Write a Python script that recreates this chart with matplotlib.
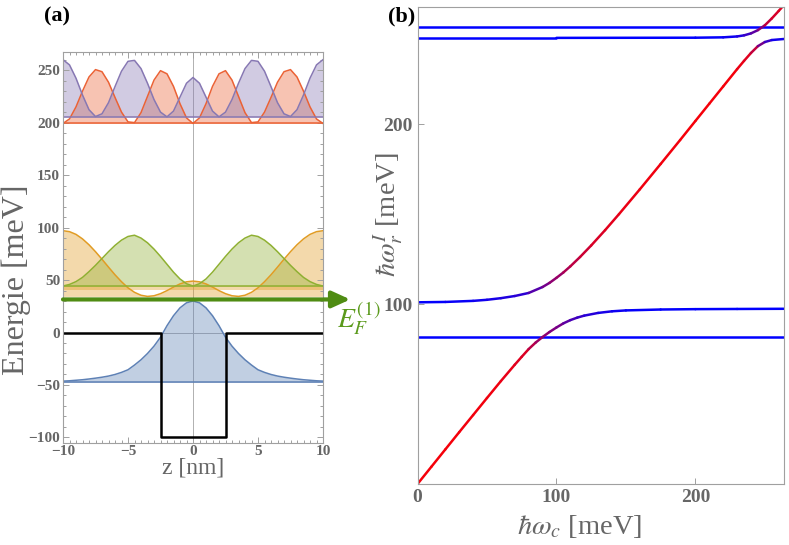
import numpy as np
import matplotlib
matplotlib.use("Agg")
import matplotlib.pyplot as plt
from matplotlib.collections import LineCollection
from matplotlib.patches import FancyArrowPatch
from matplotlib.ticker import MultipleLocator

plt.rcParams['font.family'] = ['Liberation Serif', 'DejaVu Serif']
plt.rcParams['mathtext.fontset'] = 'stix'

# ---------------- panel (a): well states, energies in meV, z in nm
z = [-10.0, -9.5, -9.0, -8.5, -8.0, -7.5, -7.0, -6.5, -6.0, -5.5, -5.0,
     -4.5, -4.0, -3.5, -3.0, -2.5, -2.0, -1.5, -1.0, -0.5, 0.0,
     0.5, 1.0, 1.5, 2.0, 2.5, 3.0, 3.5, 4.0, 4.5, 5.0,
     5.5, 6.0, 6.5, 7.0, 7.5, 8.0, 8.5, 9.0, 9.5, 10.0]

pot_z = [-10, -2.5, -2.5, 2.5, 2.5, 10]
pot_e = [0, 0, -100, -100, 0, 0]

lvl_blue = -47.5
blue = [-46.3, -46, -45.5, -45, -44.3, -43.5, -42.6, -41.5, -40, -38,
        -35.5, -31, -26, -20, -13, -4.5, 6.5, 16, 23.5, 28.3, 30,
        28.3, 23.5, 16, 6.5, -4.5, -13, -20, -26, -31, -35.5,
        -38, -40, -41.5, -42.6, -43.5, -44.3, -45, -45.5, -46, -46.3]

lvl_orange = 34.4
orange_band = (40.1, 44.2)
orange = [97, 96.1, 93.5, 89.2, 83.6, 77, 69.8, 62.3, 55, 48.4,
          42.6, 38.3, 35.5, 34.4, 35, 37, 39.9, 43.3, 46.3, 48.3, 49,
          48.3, 46.3, 43.3, 39.9, 37, 35, 34.4, 35.5, 38.3, 42.6,
          48.4, 55, 62.3, 69.8, 77, 83.6, 89.2, 93.5, 96.1, 97]

lvl_green = 44.3
green = [44.3, 45.8, 48.5, 52.5, 58, 64, 70.5, 77, 83, 88,
         91.5, 92.7, 90, 85.5, 79.5, 72.5, 65, 57.5, 51, 46.5, 44.3,
         46.5, 51, 57.5, 65, 72.5, 79.5, 85.5, 90, 92.7, 91.5,
         88, 83, 77, 70.5, 64, 58, 52.5, 48.5, 45.8, 44.3]

lvl_red = 199.2
red = [199.2, 203.5, 215, 230, 243.5, 250.5, 248.5, 238.5, 224, 210,
       200.7, 200, 209.5, 225, 240.5, 249.5, 246.5, 234.5, 218, 204.5, 199.2,
       204.5, 218, 234.5, 246.5, 249.5, 240.5, 225, 209.5, 200, 200.7,
       210, 224, 238.5, 248.5, 250.5, 243.5, 230, 215, 203.5, 199.2]

lvl_purple = 205.5
purple = [260, 255, 242.3, 226.3, 212.3, 205.8, 208.4, 219, 234.3, 249,
          258.4, 259.3, 251.5, 237.5, 222, 210, 205.5, 211, 224.3, 237.5, 243,
          237.5, 224.3, 211, 205.5, 210, 222, 237.5, 251.5, 259.3, 258.4,
          249, 234.3, 219, 208.4, 205.8, 212.3, 226.3, 242.3, 255, 260]

e_fermi = 31.5

# ---------------- panel (b): dispersion, meV vs meV
flat_low = 81.8
flat_high = 254.3

x_lower = [0, 10, 20, 30, 40, 50, 60, 70, 75, 80, 85, 90, 95, 100, 105,
           110, 115, 120, 130, 140, 150, 175, 200, 230, 264]
y_lower = [0, 9.6, 19.2, 28.8, 38.3, 47.8, 57.2, 66.3, 70.7, 75, 78.6,
           81.7, 84.5, 87, 89.3, 91.1, 92.5, 93.6, 95.1, 96.0, 96.5,
           97, 97.2, 97.3, 97.4]

x_middle = [0, 20, 40, 50, 60, 70, 80, 90, 95, 100, 105, 110, 117, 125,
            135, 145, 160, 175, 189, 200, 210, 220, 230, 235, 240, 245,
            250, 255, 264]
y_middle = [101, 101.2, 101.8, 102.4, 103.3, 104.5, 106.2, 109.5, 111.8,
            114.6, 117.6, 121.0, 126.2, 132.6, 141.1, 150.0, 163.8, 177.9,
            191.2, 201.8, 211.4, 221.0, 230.6, 235.2, 239.6, 243.4, 245.7,
            246.8, 247.4]

x_upper = [0, 100, 200, 220, 230, 235, 240, 245, 250, 255, 260, 264]
y_upper = [248, 248, 248.1, 248.3, 248.8, 249.4, 250.5, 252.3, 255,
           258.8, 263, 266.5]

c_blue = '#5e81b5'
c_orange = '#e19c24'
c_green = '#8fb032'
c_red = '#eb6235'
c_purple = '#8778b3'
frame_col = '#a0a0a0'
text_col = '#666666'
fermi_col = '#4f8c13'

fig = plt.figure(figsize=(7.89, 5.45), dpi=100)
W, H = 789, 545
axa = fig.add_axes([63 / W, 1 - 442.7 / H, 260 / W, 390.4 / H])
axb = fig.add_axes([417.5 / W, 1 - 484 / H, 366.8 / W, 476.7 / H])

# ----- (a)
axa.axvline(0, color='#b0b0b0', lw=0.7, zorder=0.5)
axa.axhline(0, color='#b0b0b0', lw=0.7, zorder=0.5)

fa = 0.38
axa.fill_between(z, lvl_blue, blue, color=c_blue, alpha=fa, lw=0)
axa.plot(z, blue, color=c_blue, lw=1.1)
axa.plot([-10, 10], [lvl_blue, lvl_blue], color=c_blue, lw=1.1)

axa.fill_between(z, lvl_orange, orange, color=c_orange, alpha=fa, lw=0)
axa.fill_between([-10, 10], orange_band[0], orange_band[1], color=c_orange, alpha=fa, lw=0)
axa.plot(z, orange, color=c_orange, lw=1.1)

axa.fill_between(z, lvl_green, green, color=c_green, alpha=fa, lw=0)
axa.plot(z, green, color=c_green, lw=1.1)
axa.plot([-10, 10], [lvl_green, lvl_green], color=c_green, lw=1.1)

axa.fill_between(z, lvl_red, red, color=c_red, alpha=fa, lw=0)
axa.plot(z, red, color=c_red, lw=1.1)
axa.plot([-10, 10], [lvl_red, lvl_red], color=c_red, lw=1.1)

axa.fill_between(z, lvl_purple, purple, color=c_purple, alpha=fa, lw=0)
axa.plot(z, purple, color=c_purple, lw=1.1)
axa.plot([-10, 10], [lvl_purple, lvl_purple], color=c_purple, lw=1.1)

axa.plot(pot_z, pot_e, color='black', lw=1.8)

arr = FancyArrowPatch((-10, e_fermi), (12.1, e_fermi),
                      arrowstyle='-|>,head_length=1.1,head_width=0.5',
                      mutation_scale=10, lw=3, color=fermi_col,
                      shrinkA=0, shrinkB=0, clip_on=False, zorder=5)
axa.add_patch(arr)
fig.text(337 / W, 1 - 328 / H, r'$E_F^{(1)}$', color='#5b9a1c',
         fontsize=20, va='baseline', ha='left')

axa.set_xlim(-10, 10)
axa.set_ylim(-105, 267)
axa.set_xticks([-10, -5, 0, 5, 10])
axa.set_yticks([-100, -50, 0, 50, 100, 150, 200, 250])
axa.xaxis.set_minor_locator(MultipleLocator(0.5))
axa.yaxis.set_minor_locator(MultipleLocator(10))
axa.tick_params(which='both', direction='in', top=True, right=True,
                color=frame_col, labelcolor=text_col, labelsize=11, width=0.7,
                pad=2)
axa.tick_params(which='major', length=4.5)
axa.tick_params(which='minor', length=2.5)
for s in axa.spines.values():
    s.set_color(frame_col)
    s.set_linewidth(0.8)
for lbl in axa.get_xticklabels() + axa.get_yticklabels():
    lbl.set_fontweight('bold')

fig.text(16 / W, 1 - 280 / H, 'Energie [meV]', rotation=90, color=text_col,
         fontsize=23, ha='center', va='center')
fig.text(193 / W, 1 - 468 / H, 'z [nm]', color=text_col,
         fontsize=17, ha='center', va='center')

# ----- (b)
axb.plot([0, 264], [flat_low, flat_low], color='blue', lw=1.8)
axb.plot([0, 264], [flat_high, flat_high], color='blue', lw=1.8)


def branch(ax, xs, ys):
    xs = np.asarray(xs, float)
    ys = np.asarray(ys, float)
    pts = np.column_stack([xs, ys]).reshape(-1, 1, 2)
    segs = np.concatenate([pts[:-1], pts[1:]], axis=1)
    slope = np.clip(np.diff(ys) / np.diff(xs), 0, 1)
    cols = [(s, 0, 1 - s) for s in slope]
    lc = LineCollection(segs, colors=cols, linewidths=1.8, capstyle='round',
                        joinstyle='round')
    ax.add_collection(lc)


branch(axb, x_lower, y_lower)
branch(axb, x_middle, y_middle)
branch(axb, x_upper, y_upper)

axb.set_xlim(0, 264)
axb.set_ylim(0, 265)
axb.set_xticks([0, 100, 200])
axb.set_yticks([100, 200])
axb.tick_params(direction='in', length=4, color=frame_col, labelcolor=text_col,
                labelsize=14, width=0.7)
for s in axb.spines.values():
    s.set_color(frame_col)
    s.set_linewidth(0.8)
for lbl in axb.get_xticklabels() + axb.get_yticklabels():
    lbl.set_fontweight('bold')

fig.text(580 / W, 1 - 526 / H, r'$\hbar\omega_c$ [meV]', color=text_col,
         fontsize=20.5, ha='center', va='center')
fig.text(389 / W, 1 - 215 / H, r'$\hbar\omega_r^I$ [meV]', color=text_col,
         fontsize=20.5, ha='center', va='center', rotation=90)

fig.text(57 / W, 1 - 16 / H, '(a)', fontweight='bold', fontsize=16,
         ha='center', va='center')
fig.text(402 / W, 1 - 16 / H, '(b)', fontweight='bold', fontsize=16,
         ha='center', va='center')

fig.savefig('out.png', dpi=100)
